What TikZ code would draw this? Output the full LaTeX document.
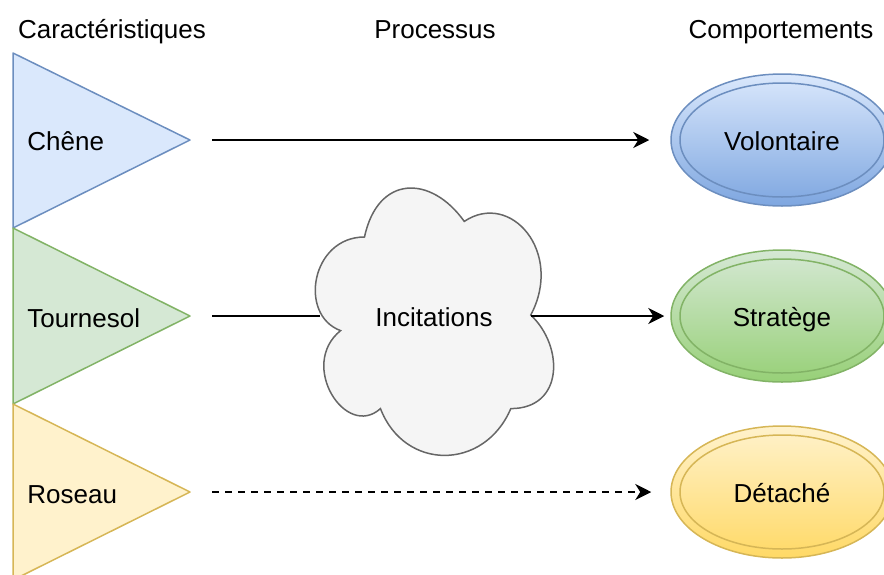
\documentclass[tikz,border=0pt]{standalone}
\usepackage{fontspec}
\setmainfont{Liberation Sans}
\usetikzlibrary{shapes.geometric,arrows.meta,positioning}
\definecolor{blueFill}{HTML}{dae8fc}
\definecolor{blueLine}{HTML}{6c8ebf}
\definecolor{blueDark}{HTML}{7ea6e0}
\definecolor{greenFill}{HTML}{d5e8d4}
\definecolor{greenLine}{HTML}{82b366}
\definecolor{greenDark}{HTML}{97d077}
\definecolor{yellowFill}{HTML}{fff2cc}
\definecolor{yellowLine}{HTML}{d6b656}
\definecolor{yellowDark}{HTML}{ffd966}
\definecolor{cloudFill}{HTML}{f5f5f5}
\definecolor{cloudLine}{HTML}{666666}

\begin{document}
\begin{tikzpicture}[x=0.5pt, y=-0.5pt,
    txt/.style={font=\fontsize{13}{15}\selectfont},
    head/.style={txt, anchor=base, inner sep=0pt},
    lbl/.style={txt, anchor=base west, inner sep=0pt},
    tri/.style 2 args={draw=#1, fill=#2, line width=0.75pt, line join=round},
    beh/.style n args={3}{ellipse, draw=#1, line width=0.75pt,
                top color=#2, bottom color=#3, minimum width=111pt,
                minimum height=66pt, inner sep=0pt, txt,
                text height=10.4pt, text depth=0pt,
                path picture={\draw[#1, line width=0.75pt]
                  (path picture bounding box.center)
                  ellipse [x radius=51pt, y radius=28.5pt];}},
    cloud/.style={draw=cloudLine, fill=cloudFill, line width=0.75pt},
    arrow/.style={-{Stealth[length=8pt,width=8pt,inset=2.5pt]}, line width=0.8pt},
]
\useasboundingbox (0,0) rectangle (884,574);

\node[head] (carac) at (112,38) {Caractéristiques};
\node[head] (proc) at (435,38) {Processus};
\node[head] (comp) at (781,38) {Comportements};

\draw[tri={blueLine}{blueFill}] (13,53) -- (190,140) -- (13,228) -- cycle;
\draw[tri={greenLine}{greenFill}] (13,228) -- (190,316) -- (13,404) -- cycle;
\draw[tri={yellowLine}{yellowFill}] (13,404) -- (190,492) -- (13,580) -- cycle;
\coordinate (cheneTip) at (190,140);
\coordinate (tournTip) at (190,316);
\coordinate (roseauTip) at (190,492);
\node[lbl] (chene) at (27,150) {Chêne};
\node[lbl] (tourn) at (27,327) {Tournesol};
\node[lbl] (roseau) at (27,503) {Roseau};

\begin{scope}[shift={(298,159)}, x=133pt, y=-156pt]
\draw[cloud] (0.25,0.25) .. controls (0.05,0.25) and (0,0.5) .. (0.16,0.55)
  .. controls (0,0.66) and (0.18,0.9) .. (0.31,0.8)
  .. controls (0.4,1) and (0.7,1) .. (0.8,0.8)
  .. controls (1,0.8) and (1,0.6) .. (0.875,0.5)
  .. controls (1,0.3) and (0.8,0.1) .. (0.625,0.2)
  .. controls (0.5,0.05) and (0.3,0.05) .. (0.25,0.25) -- cycle;
\end{scope}
\node[txt, minimum width=114pt, inner sep=0pt, text height=10.4pt,
      text depth=0pt] (incit) at (434,316) {Incitations};

\node[beh={blueLine}{blueFill}{blueDark}] (volon) at (782,140) {Volontaire};
\node[beh={greenLine}{greenFill}{greenDark}] (strat) at (782,316) {Stratège};
\node[beh={yellowLine}{yellowFill}{yellowDark}] (detach) at (782,492) {Détaché};

\draw[arrow, shorten <=11pt, shorten >=10.5pt] (cheneTip) -- (volon);
\draw[line width=0.8pt, shorten <=11pt] (tournTip) -- (incit);
\draw[arrow, shorten <=-8.5pt, shorten >=3pt] (incit) -- (strat);
\draw[arrow, dash pattern=on 3.5pt off 3pt, shorten <=11pt, shorten >=9.5pt]
  (roseauTip) -- (detach);

\end{tikzpicture}
\end{document}
